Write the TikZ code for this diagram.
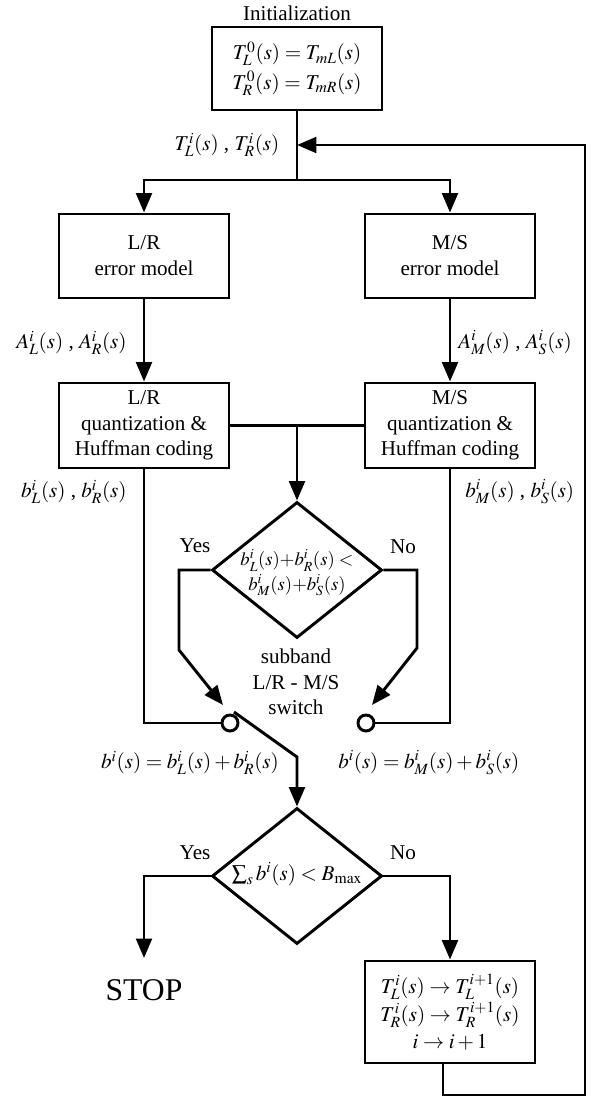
\documentclass[tikz,border=0pt]{standalone}
\usepackage{mathptmx}
\usepackage[no-math]{fontspec}
\setmainfont{Liberation Serif}
\usetikzlibrary{shapes.geometric,arrows.meta}

\begin{document}
\begin{tikzpicture}[x=0.03cm,y=-0.03cm,line width=2.5pt,
  every node/.style={font=\fontsize{18}{22}\selectfont},
  blk/.style={draw,minimum width=5.1cm,minimum height=2.52cm,align=center,inner sep=2pt},
  dec/.style={draw,diamond,minimum width=5.1cm,minimum height=4.08cm,inner sep=0pt},
  sw/.style={draw,circle,minimum size=0.48cm,inner sep=0pt},
  arr/.style={-{Triangle[length=0.58cm,width=0.47cm]}}]
\useasboundingbox (0,0) rectangle (591,1098);
\node (title) at (297,13) {Initialization};
\node[blk,minimum height=2.49cm] (init) at (297,68.5) {$T_L^0(s) = T_{mL}(s)$\\[3pt]$T_R^0(s) = T_{mR}(s)$};
\node[blk] (lre) at (144,256) {L/R\\error model};
\node[blk] (mse) at (450,256) {M/S\\error model};
\node[blk,minimum height=2.55cm] (lrq) at (144,425.5) {L/R\\quantization \&\\Huffman coding};
\node[blk,minimum height=2.55cm] (msq) at (450,425.5) {M/S\\quantization \&\\Huffman coding};
\node[dec] (dec1) at (297,570) {};
\node[align=center,font=\fontsize{16}{20}\selectfont] (dec1t) at (297,573) {$b_L^i(s){+}b_R^i(s) <$\\[1pt]$b_M^i(s){+}b_S^i(s)$};
\node[sw] (lrc) at (230,723) {};
\node[sw] (msc) at (366,723) {};
\node[align=center] (swt) at (296,682) {subband\\L/R - M/S\\switch};
\node[dec] (dec2) at (297,876) {};
\node (dec2t) at (297,874) {$\textstyle\sum_s b^i(s) < B_{\max}$};
\node[font=\fontsize{27}{30}\selectfont] (stop) at (144,990) {STOP};
\node[blk,minimum height=3.06cm] (upd) at (450,1012) {$T_L^i(s) \rightarrow T_L^{i+1}(s)$\\[2pt]$T_R^i(s) \rightarrow T_R^{i+1}(s)$\\[1pt]$i \rightarrow i+1$};

\node (tlab) at (227,145) {$T_L^i(s)$ , $T_R^i(s)$};
\node[anchor=east] (alab) at (132,343) {$A_L^i(s)$ , $A_R^i(s)$};
\node[anchor=west] (amlab) at (453,343) {$A_M^i(s)$ , $A_S^i(s)$};
\node[anchor=east] (blab) at (132,492) {$b_L^i(s)$ , $b_R^i(s)$};
\node[anchor=west] (bmlab) at (460,492) {$b_M^i(s)$ , $b_S^i(s)$};
\node (beqlr) at (190,763) {$b^i(s) = b_L^i(s) + b_R^i(s)$};
\node[anchor=west] (beqms) at (333,763) {$b^i(s) = b_M^i(s) + b_S^i(s)$};
\node (yes1) at (195,546) {Yes};
\node (no1) at (403,547) {No};
\node (yes2) at (195,853) {Yes};
\node (no2) at (403,853) {No};

\coordinate (split) at (297,180);
\coordinate (junc) at (297,425.5);
\coordinate (yb1) at (179,650);
\coordinate (yt) at (223,705);
\coordinate (nb1) at (417,648);
\coordinate (nt) at (372,705);
\coordinate (lv1) at (234,712);
\coordinate (lv2) at (297,757);
\coordinate (stoptip) at (144,958);
\coordinate (lp0) at (443,1063);
\coordinate (lp1) at (443,1095);
\coordinate (lp2) at (585,1095);
\coordinate (lp3) at (585,145);
\coordinate (lp4) at (297,145);

\draw (init) -- (split);
\draw[arr] (split) -| (lre.north);
\draw[arr] (split) -| (mse.north);
\draw[arr] (lre) -- (lrq);
\draw[arr] (mse) -- (msq);
\draw (lrq.east) -- (msq.west);
\draw[arr] (junc) -- (dec1.north);
\draw[arr] (dec1.west) -| (yb1) -- (yt);
\draw[arr] (dec1.east) -| (nb1) -- (nt);
\draw (lrq.south) |- (lrc.west);
\draw (msq.south) |- (msc.east);
\draw[arr] (lv1) -- (lv2) -- (dec2.north);
\draw[arr] (dec2.west) -| (stoptip);
\draw[arr] (dec2.east) -| (upd.north);
\draw[arr] (lp0) -- (lp1) -- (lp2) -- (lp3) -- (lp4);
\end{tikzpicture}
\end{document}
